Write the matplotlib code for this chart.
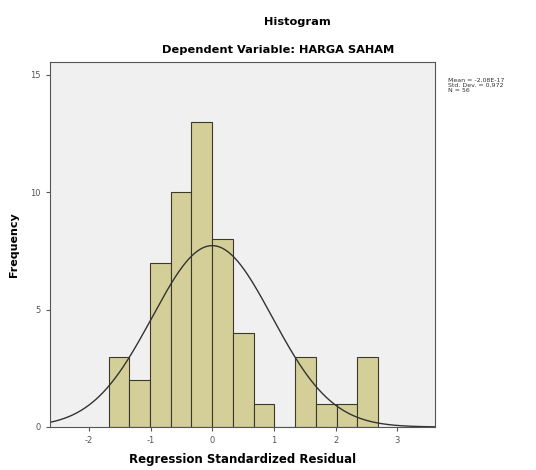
import numpy as np
import matplotlib
matplotlib.use('Agg')
import matplotlib.pyplot as plt

plt.rcParams['axes.unicode_minus'] = False

# histogram of regression standardized residuals
bin_edges = [-1.68, -1.344, -1.008, -0.672, -0.336, 0.0, 0.336, 0.672,
             1.008, 1.344, 1.68, 2.016, 2.352, 2.688]
counts = [3, 2, 7, 10, 13, 8, 4, 1, 0, 3, 1, 1, 3]
mean = -2.08e-17
std = 0.972
n = 56
stats_text = 'Mean = -2,08E-17\nStd. Dev. = 0,972\nN = 56'

fig = plt.figure(figsize=(5.36, 4.70), dpi=100)
ax = fig.add_axes([0.0933, 0.0915, 0.718, 0.777])
ax.set_facecolor('#f0f0f0')

widths = np.diff(bin_edges)
ax.bar(bin_edges[:-1], counts, width=widths, align='edge',
       color='#d4cf99', edgecolor='#3a3a2a', linewidth=0.8)

# normal curve scaled to the histogram
xs = np.linspace(-2.63, 3.61, 300)
bw = widths.mean()
ys = n * bw / (std * np.sqrt(2 * np.pi)) * np.exp(-0.5 * ((xs - mean) / std) ** 2)
ax.plot(xs, ys, color='#333333', linewidth=1.0)

ax.set_xlim(-2.63, 3.61)
ax.set_ylim(0, 15.55)
ax.set_xticks([-2, -1, 0, 1, 2, 3])
ax.set_yticks([0, 5, 10, 15])
ax.tick_params(labelsize=6, colors='#555555', length=3)
for s in ax.spines.values():
    s.set_color('#555555')
    s.set_linewidth(0.8)

ax.set_xlabel('Regression Standardized Residual', fontsize=8.5, fontweight='bold', labelpad=6)
ax.set_ylabel('Frequency', fontsize=8, fontweight='bold', labelpad=8)

fig.text(0.554, 0.953, 'Histogram', ha='center', va='center', fontsize=8.2, fontweight='bold')
fig.text(0.519, 0.893, 'Dependent Variable: HARGA SAHAM', ha='center', va='center',
         fontsize=8.2, fontweight='bold')
fig.text(0.836, 0.835, stats_text, ha='left', va='top', fontsize=4.5, color='#333333',
         linespacing=1.1)

fig.savefig('out.png', dpi=100)
